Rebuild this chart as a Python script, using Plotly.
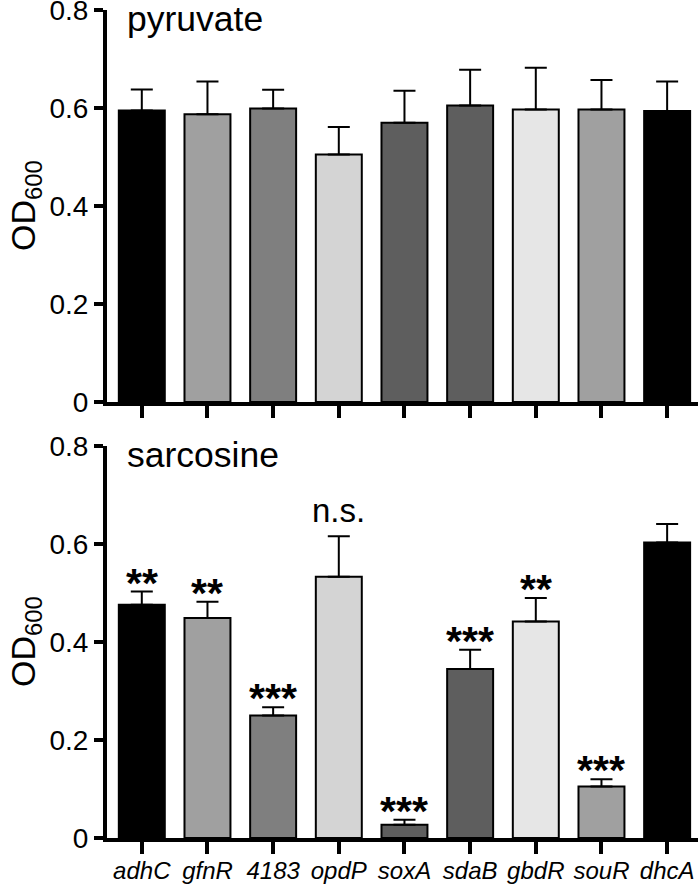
import plotly.graph_objects as go
from plotly.subplots import make_subplots

strains = ["adhC", "gfnR", "4183", "opdP", "soxA", "sdaB", "gbdR", "souR", "dhcA"]
pyruvate_mean = [0.595, 0.587, 0.599, 0.505, 0.570, 0.605, 0.597, 0.597, 0.594]
pyruvate_err = [0.043, 0.067, 0.038, 0.056, 0.065, 0.073, 0.085, 0.060, 0.060]
sarcosine_mean = [0.476, 0.449, 0.250, 0.533, 0.027, 0.345, 0.442, 0.105, 0.603]
sarcosine_err = [0.027, 0.033, 0.017, 0.083, 0.010, 0.039, 0.048, 0.015, 0.038]
significance = ["**", "**", "***", "n.s.", "***", "***", "**", "***", ""]
bar_colors = ["#000000", "#a0a0a0", "#7f7f7f", "#d4d4d4", "#5e5e5e",
              "#5e5e5e", "#e6e6e6", "#a0a0a0", "#000000"]
y_ticks = [0, 0.2, 0.4, 0.6, 0.8]
y_ticktext = ["0", "0.2", "0.4", "0.6", "0.8"]

FONT = "Liberation Sans, Arial, sans-serif"
W, H = 700, 884
ML, MR, MT, MB = 107, 2, 10, 46
PH = H - MT - MB
pw = W - ML - MR

fig = make_subplots(rows=2, cols=1)

for row, (mean, err) in enumerate([(pyruvate_mean, pyruvate_err),
                                   (sarcosine_mean, sarcosine_err)], start=1):
    fig.add_trace(go.Bar(
        x=list(range(len(strains))), y=mean, width=0.70,
        marker=dict(color=bar_colors, line=dict(color="black", width=2)),
        error_y=dict(type="data", array=err, arrayminus=[0] * len(err),
                     symmetric=False, color="black", thickness=2, width=11),
        showlegend=False, hoverinfo="skip",
    ), row=row, col=1)

top_dom = [(838 - 402) / PH, 1.0]
bot_dom = [0.0, (838 - 446) / PH]

common_x = dict(range=[-0.53, 8.47], showline=True, linewidth=4, linecolor="black",
                ticks="outside", ticklen=12, tickwidth=4, tickcolor="black",
                tickvals=list(range(len(strains))), ticktext=strains,
                showgrid=False, zeroline=False, automargin=False,
                ticklabelstandoff=-4, ticklabeloverflow="allow",
                tickfont=dict(family=FONT, size=24, color="black", style="italic"))
common_y = dict(range=[0, 0.8], showline=True, linewidth=4, linecolor="black",
                ticks="outside", ticklen=9, tickwidth=4, tickcolor="black",
                tickvals=y_ticks, ticktext=y_ticktext, showgrid=False, zeroline=False,
                automargin=False, ticklabeloverflow="allow",
                tickfont=dict(family=FONT, size=28, color="black"))

fig.update_layout(
    xaxis=dict(common_x, showticklabels=False),
    xaxis2=dict(common_x),
    yaxis=dict(common_y, domain=top_dom),
    yaxis2=dict(common_y, domain=bot_dom),
)

annotations = []
for yref, label in [("y", "pyruvate"), ("y2", "sarcosine")]:
    annotations.append(dict(text=label, xref="paper", x=(125 - ML) / pw, xanchor="left",
                            yref=yref, y=0.8, yanchor="middle", yshift=-9,
                            showarrow=False, font=dict(family=FONT, size=35.5, color="black")))
    annotations.append(dict(text="OD<sub>600</sub>", xref="paper", x=(25 - ML) / pw,
                            xanchor="center", yref=yref + " domain", y=0.5, yanchor="middle",
                            textangle=-90, showarrow=False,
                            font=dict(family=FONT, size=34, color="black")))

for i, s in enumerate(significance):
    if not s:
        continue
    top = sarcosine_mean[i] + sarcosine_err[i]
    if s == "n.s.":
        annotations.append(dict(text=s, x=i, y=top, xref="x2", yref="y2",
                                yanchor="bottom", yshift=5, showarrow=False,
                                font=dict(family=FONT, size=33, color="black")))
    else:
        annotations.append(dict(text=s, x=i, y=top, xref="x2", yref="y2",
                                yanchor="bottom", yshift=-16, showarrow=False,
                                font=dict(family=FONT, size=41, color="black", weight="bold")))

fig.update_layout(annotations=annotations)

# extend x-axis baselines leftwards like the original
for xr, yref in [("x domain", "y domain"), ("x2 domain", "y2 domain")]:
    fig.add_shape(type="line", xref=xr, yref=yref, x0=-9 / pw, x1=0, y0=0, y1=0,
                  line=dict(color="black", width=4))

fig.update_layout(
    width=W, height=H, margin=dict(l=ML, r=MR, t=MT, b=MB, autoexpand=False),
    plot_bgcolor="white", paper_bgcolor="white", hovermode=False,
)

fig.write_html("out.html", config={"displayModeBar": False, "staticPlot": True},
               post_script="document.body.style.margin='0';document.body.style.overflow='hidden';")
